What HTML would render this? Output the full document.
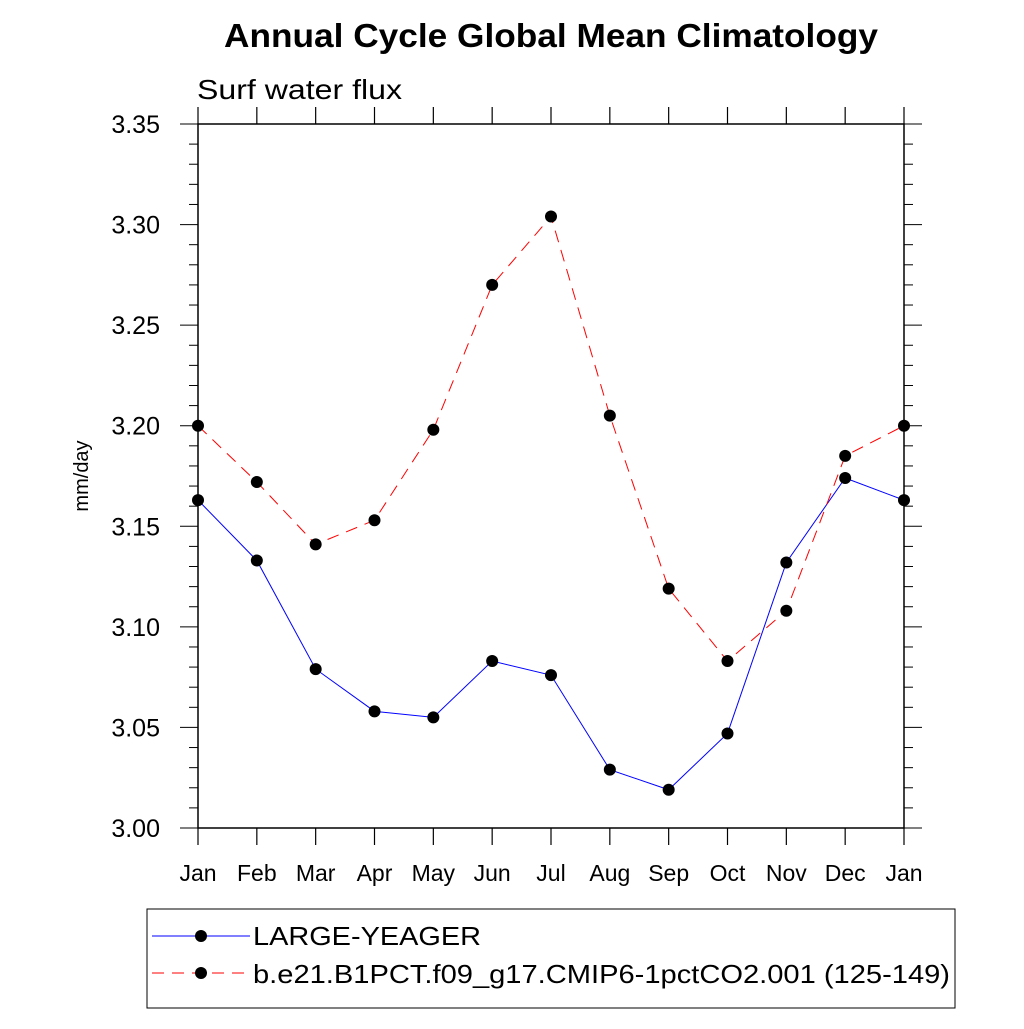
<!DOCTYPE html>
<html><head><meta charset="utf-8"><style>
body{margin:0;background:#fff}
svg text{font-family:"Liberation Sans",Arial,sans-serif}
</style></head><body>
<svg id="chart" width="1024" height="1024" xmlns="http://www.w3.org/2000/svg">
<text x="224" y="47" font-size="33" font-weight="bold" textLength="654" lengthAdjust="spacingAndGlyphs">Annual Cycle Global Mean Climatology</text>
<text x="197" y="99" font-size="28" textLength="205" lengthAdjust="spacingAndGlyphs">Surf water flux</text>
<text transform="translate(88,476) rotate(-90)" text-anchor="middle" font-size="20">mm/day</text>
<rect x="198" y="124" width="706" height="704" fill="none" stroke="#000" stroke-width="1.5"/>
<g id="axes"></g>
<g id="series"></g>
<g>
<rect x="147" y="909" width="808" height="99" fill="none" stroke="#000" stroke-width="1"/>
<g>
<line x1="152" y1="936" x2="250" y2="936" stroke="#00f" stroke-width="1"/>
<circle cx="201" cy="936" r="6" fill="#000"/>
<text x="253" y="945" font-size="26" textLength="228" lengthAdjust="spacingAndGlyphs">LARGE-YEAGER</text></g>
<g>
<line x1="152" y1="973" x2="250" y2="973" stroke="#f00" stroke-width="1" stroke-dasharray="12,8"/>
<circle cx="201" cy="973" r="6" fill="#000"/>
<text x="253" y="983" font-size="26" textLength="697" lengthAdjust="spacingAndGlyphs">b.e21.B1PCT.f09_g17.CMIP6-1pctCO2.001 (125-149)</text></g>
</g>
</svg>
<script>
const months=["Jan","Feb","Mar","Apr","May","Jun","Jul","Aug","Sep","Oct","Nov","Dec","Jan"];
const yTicks=[3.00,3.05,3.10,3.15,3.20,3.25,3.30,3.35];
const largeYeager=[3.163,3.133,3.079,3.058,3.055,3.083,3.076,3.029,3.019,3.047,3.132,3.174,3.163];
const b1pct=[3.200,3.172,3.141,3.153,3.198,3.270,3.304,3.205,3.119,3.083,3.108,3.185,3.200];
const NS="http://www.w3.org/2000/svg";
const X0=198,X1=904,Y0=828,Y1=124,ymin=3.0,ymax=3.35;
const xs=i=>X0+i*(X1-X0)/(months.length-1);
const ys=v=>Y0-(v-ymin)/(ymax-ymin)*(Y0-Y1);
function mk(t,a,p){const e=document.createElementNS(NS,t);for(const k in a)e.setAttribute(k,a[k]);p.appendChild(e);return e;}
const ax=document.getElementById('axes');
months.forEach((m,i)=>{const x=xs(i);
 mk('line',{x1:x,y1:Y0,x2:x,y2:Y0+17,stroke:'#000','stroke-width':1.2},ax);
 mk('line',{x1:x,y1:Y1,x2:x,y2:Y1-17,stroke:'#000','stroke-width':1.2},ax);
 const t=mk('text',{x:x,y:Y0+53,'text-anchor':'middle','font-size':23},ax);t.textContent=m;
 
 
});
for(let v=ymin;v<=ymax+1e-9;v+=0.01){const y=ys(v);const major=Math.abs(Math.round(v*100)%5)===0;
 const L=major?18:9;
 mk('line',{x1:X0,y1:y,x2:X0-L,y2:y,stroke:'#000','stroke-width':1},ax);
 mk('line',{x1:X1,y1:y,x2:X1+L,y2:y,stroke:'#000','stroke-width':1},ax);}
yTicks.forEach(v=>{const t=mk('text',{x:160,y:ys(v)+9,'text-anchor':'end','font-size':25},ax);t.textContent=v.toFixed(2);
 
 });
const sg=document.getElementById('series');
function draw(data,color,dash,name){
 const g=mk('g',{},sg);
 
 
 const pts=data.map((v,i)=>xs(i)+','+ys(v)).join(' ');
 const a={points:pts,fill:'none',stroke:color,'stroke-width':1};if(dash)a['stroke-dasharray']=dash;
 mk('polyline',a,g);
 data.forEach((v,i)=>{const c=mk('circle',{cx:xs(i),cy:ys(v),r:6,fill:'#000'},g);
  
  });
}
draw(largeYeager,'#00f',null,'series-large-yeager');
draw(b1pct,'#f00','12,8','series-b1pct');
</script>
</body></html>
